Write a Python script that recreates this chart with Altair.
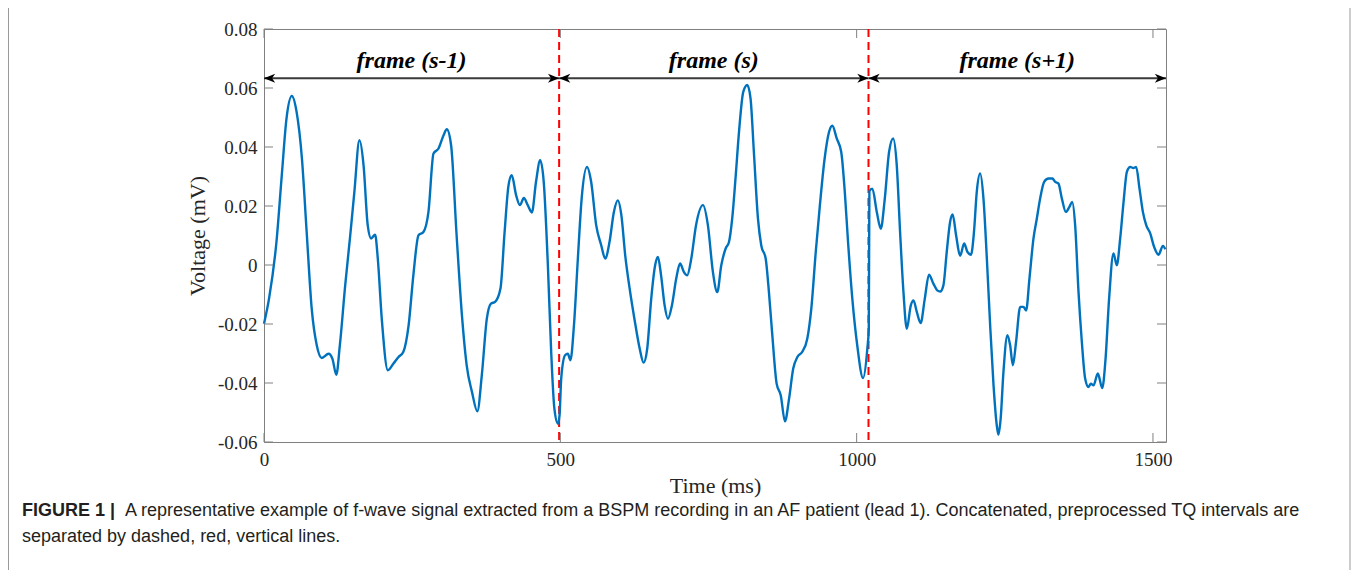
import altair as alt
import pandas as pd

# ---------------- data ----------------
time_ms = [0, 8.5, 21, 30, 38, 47, 55, 64, 72, 80.5, 89, 97.5, 109, 115.5, 122, 128, 137, 145,
           152.5, 161, 168, 175, 180.7, 187.5, 192, 198.7, 209, 218.5, 227, 235, 244, 252, 260.7,
           269, 277.5, 286, 294.5, 303, 308.5, 315.7, 325, 334, 342, 351, 360, 367.5, 376, 383,
           390, 399, 406, 412.6, 418, 425.5, 431.7, 438.5, 445, 452, 459, 466, 472, 479, 484.6,
           490, 496, 498.7, 501.5, 508, 512.7, 517, 523, 529.6, 536, 545, 552, 560.5, 569, 575.7,
           583, 590.4, 597, 603, 609.5, 617, 625, 634, 640.5, 646.6, 653.4, 660, 664.7, 670, 676,
           681.6, 688.3, 695.6, 702, 708.6, 714, 721, 729, 740.7, 749, 757.5, 764.8, 771.6, 779,
           784.6, 790, 796, 801.5, 808.7, 815.5, 821, 826.6, 833.5, 839, 846.5, 852, 857.7, 865,
           872, 879, 886, 893, 900, 908, 916.7, 923.5, 931, 938, 946, 953.4, 959, 966.4, 974, 980,
           985.5, 992.7, 1001, 1010.8, 1018, 1020.5, 1021.5, 1026.5, 1034, 1040.7, 1047.5, 1054.7,
           1061.6, 1067.7, 1073.3, 1079, 1084.6, 1091.4, 1096, 1101.5, 1108, 1115, 1122, 1129.5,
           1136, 1141, 1146.4, 1152, 1157.7, 1162, 1167.8, 1174.6, 1181.4, 1187, 1193, 1198,
           1202.7, 1208.4, 1214, 1219.7, 1225.3, 1231, 1236.5, 1239.3, 1243, 1247.7, 1254.4, 1259,
           1263.6, 1269, 1276, 1281.4, 1286, 1291.6, 1298.4, 1304, 1309.6, 1316.4, 1323.7, 1330.4,
           1335, 1340.6, 1346.3, 1353, 1359, 1363.7, 1368.7, 1374.4, 1380, 1385.6, 1391.2, 1395.3,
           1399.6, 1407, 1414.4, 1420, 1426, 1433.4, 1439, 1444.7, 1450.4, 1456, 1461.6, 1467,
           1471.7, 1477.3, 1483, 1488.6, 1495.4, 1502, 1509.4, 1516.8, 1521]
voltage_mv = [-0.0199, -0.0114, 0.0078, 0.0304, 0.0497, 0.0573, 0.0519, 0.0361, 0.0112, -0.0148,
              -0.0272, -0.0315, -0.0301, -0.0318, -0.0372, -0.0272, -0.0069, 0.0090, 0.0248,
              0.0423, 0.0338, 0.0135, 0.0090, 0.0103, 0.0022, -0.0182, -0.0357, -0.0334, -0.0312,
              -0.0295, -0.0205, -0.0035, 0.0101, 0.0112, 0.0180, 0.0378, 0.0395, 0.0440, 0.0460,
              0.0406, 0.0101, -0.0171, -0.0340, -0.0431, -0.0496, -0.0374, -0.0182, -0.0131,
              -0.0125, -0.0080, 0.0112, 0.0270, 0.0304, 0.0236, 0.0203, 0.0227, 0.0203, 0.0178,
              0.0282, 0.0355, 0.0282, -0.0001, -0.0295, -0.0487, -0.0538, -0.0510, -0.0385,
              -0.0306, -0.0301, -0.0323, -0.0205, 0.0022, 0.0225, 0.0332, 0.0282, 0.0135, 0.0067,
              0.0022, 0.0078, 0.0180, 0.0219, 0.0169, 0.0033, -0.0080, -0.0182, -0.0284, -0.0331,
              -0.0284, -0.0114, -0.0001, 0.0027, -0.0035, -0.0137, -0.0182, -0.0137, -0.0046,
              0.0005, -0.0024, -0.0035, 0.0022, 0.0135, 0.0203, 0.0135, -0.0024, -0.0092, -0.0001,
              0.0056, 0.0078, 0.0157, 0.0304, 0.0451, 0.0587, 0.0610, 0.0564, 0.0383, 0.0157,
              0.0067, 0.0022, -0.0092, -0.0238, -0.0402, -0.0442, -0.0530, -0.0453, -0.0351,
              -0.0312, -0.0295, -0.0250, -0.0148, 0.0044, 0.0203, 0.0361, 0.0451, 0.0472, 0.0429,
              0.0383, 0.0248, 0.0078, -0.0114, -0.0272, -0.0383, -0.0284, -0.0216, 0.0250, 0.0259,
              0.0180, 0.0123, 0.0225, 0.0383, 0.0429, 0.0338, 0.0112, -0.0092, -0.0216, -0.0137,
              -0.0120, -0.0159, -0.0197, -0.0114, -0.0033, -0.0063, -0.0086, -0.0090, -0.0069,
              0.0044, 0.0146, 0.0171, 0.0101, 0.0031, 0.0073, 0.0044, 0.0035, 0.0112, 0.0248,
              0.0310, 0.0225, 0.0022, -0.0205, -0.0408, -0.0544, -0.0575, -0.0521, -0.0363,
              -0.0238, -0.0272, -0.0340, -0.0261, -0.0142, -0.0142, -0.0154, -0.0046, 0.0090,
              0.0157, 0.0225, 0.0282, 0.0293, 0.0293, 0.0282, 0.0276, 0.0225, 0.0180, 0.0197,
              0.0214, 0.0135, -0.0092, -0.0261, -0.0385, -0.0414, -0.0402, -0.0408, -0.0368,
              -0.0417, -0.0318, -0.0114, 0.0039, -0.0001, 0.0090, 0.0214, 0.0316, 0.0332, 0.0329,
              0.0332, 0.0259, 0.0180, 0.0135, 0.0107, 0.0061, 0.0035, 0.0065, 0.0053]

frame_bounds = [0, 498, 1020, 1522]
frame_labels = ["frame (s-1)", "frame (s)", "frame (s+1)"]
arrow_level = [0.0633, 0.0633, 0.0633]
label_level = [0.0692, 0.0692, 0.0692]

x_ticks = [0, 500, 1000, 1500]
y_ticks = [-0.06, -0.04, -0.02, 0, 0.02, 0.04, 0.06, 0.08]

caption_bold = "FIGURE 1 |"
caption_line1 = ("A representative example of f-wave signal extracted from a BSPM recording in an "
                 "AF patient (lead 1). Concatenated, preprocessed TQ intervals are")
caption_line2 = "separated by dashed, red, vertical lines."

# ---------------- chart ----------------
W, H = 902, 413
TK = 9
BOX = "#808080"
SERIF = "Liberation Serif"
SANS = "Liberation Sans"

xs = alt.Scale(domain=[frame_bounds[0], frame_bounds[-1]], nice=False, zero=False)
ys = alt.Scale(domain=[y_ticks[0], y_ticks[-1]], nice=False, zero=False)

sig = pd.DataFrame({"t": time_ms, "v": voltage_mv})
frames = pd.DataFrame({
    "start": frame_bounds[:-1],
    "end": frame_bounds[1:],
    "mid": [(a + b) / 2 for a, b in zip(frame_bounds[:-1], frame_bounds[1:])],
    "label": frame_labels,
    "ay": arrow_level,
    "ly": label_level,
})
seps = pd.DataFrame({"b": frame_bounds[1:-1]})
xt = pd.DataFrame({"xt": x_ticks})
yt = pd.DataFrame({"yt": y_ticks})

line = alt.Chart(sig).mark_line(color="#0072BD", strokeWidth=2.4, interpolate="monotone").encode(
    x=alt.X("t:Q", scale=xs, axis=alt.Axis(values=x_ticks, format="d", title="Time (ms)",
                                            labelPadding=8, titlePadding=6, labelFlush=False)),
    y=alt.Y("v:Q", scale=ys, axis=alt.Axis(
        values=y_ticks, title="Voltage (mV)", labelPadding=7, titlePadding=8, labelFlush=False,
        labelExpr="datum.value == 0 ? '0' : (datum.value < 0 ? '-' : '') + format(abs(datum.value), '.2f')")),
)

sep_rules = alt.Chart(seps).mark_rule(color="#FF0000", strokeDash=[8, 5], strokeWidth=2).encode(
    x=alt.X("b:Q", scale=xs)
)

xt_bottom = alt.Chart(xt).mark_rule(color=BOX, strokeWidth=1).encode(
    x=alt.X("xt:Q", scale=xs), y=alt.value(H), y2=alt.value(H - TK))
xt_top = alt.Chart(xt).mark_rule(color=BOX, strokeWidth=1).encode(
    x=alt.X("xt:Q", scale=xs), y=alt.value(0), y2=alt.value(TK))
yt_left = alt.Chart(yt).mark_rule(color=BOX, strokeWidth=1).encode(
    y=alt.Y("yt:Q", scale=ys), x=alt.value(0), x2=alt.value(TK))
yt_right = alt.Chart(yt).mark_rule(color=BOX, strokeWidth=1).encode(
    y=alt.Y("yt:Q", scale=ys), x=alt.value(W - TK), x2=alt.value(W))

arrow_lines = alt.Chart(frames).mark_rule(color="#3a3a3a", strokeWidth=1.8).encode(
    x=alt.X("start:Q", scale=xs), x2="end:Q", y=alt.Y("ay:Q", scale=ys))

LEFT_HEAD = "M0,0 L1,-0.4 L0.72,0 L1,0.4 Z"
RIGHT_HEAD = "M0,0 L-1,-0.4 L-0.72,0 L-1,0.4 Z"
heads_left = alt.Chart(frames).mark_point(shape=LEFT_HEAD, size=500, filled=True, color="#000000",
                                          opacity=1, strokeWidth=0).encode(
    x=alt.X("start:Q", scale=xs), y=alt.Y("ay:Q", scale=ys))
heads_right = alt.Chart(frames).mark_point(shape=RIGHT_HEAD, size=500, filled=True, color="#000000",
                                           opacity=1, strokeWidth=0).encode(
    x=alt.X("end:Q", scale=xs), y=alt.Y("ay:Q", scale=ys))

frame_text = alt.Chart(frames).mark_text(font=SERIF, fontSize=24, fontStyle="italic", fontWeight="bold",
                                         baseline="middle", align="center", color="#000000").encode(
    x=alt.X("mid:Q", scale=xs), y=alt.Y("ly:Q", scale=ys), text="label:N")

cap_df = pd.DataFrame({"b": [caption_bold], "l1": [caption_line1], "l2": [caption_line2]})
cap_bold = alt.Chart(cap_df).mark_text(font=SANS, fontSize=18, fontWeight="bold", align="left",
                                       baseline="middle", color="#231f20").encode(
    x=alt.value(-242), y=alt.value(482), text="b:N")
cap_l1 = alt.Chart(cap_df).mark_text(font=SANS, fontSize=18, align="left", baseline="middle",
                                     color="#231f20").encode(
    x=alt.value(-139), y=alt.value(482), text="l1:N")
cap_l2 = alt.Chart(cap_df).mark_text(font=SANS, fontSize=18, align="left", baseline="middle",
                                     color="#231f20").encode(
    x=alt.value(-242), y=alt.value(508), text="l2:N")

border = alt.Chart(cap_df).mark_rule(color="#9a9a9a", strokeWidth=1).encode(
    x=alt.value(-255.5), y=alt.value(-30), y2=alt.value(600))
border_r = alt.Chart(cap_df).mark_rule(color="#9a9a9a", strokeWidth=1).encode(
    x=alt.value(1086), y=alt.value(-30), y2=alt.value(600))

chart = alt.layer(
    sep_rules, line, xt_bottom, xt_top, yt_left, yt_right,
    arrow_lines, heads_left, heads_right, frame_text,
    cap_bold, cap_l1, cap_l2, border, border_r,
).properties(
    width=W, height=H,
    autosize=alt.AutoSizeParams(type="none"),
    padding={"left": 256, "top": 21, "right": 185, "bottom": 128},
    background="white",
).configure_view(
    stroke=BOX, strokeWidth=1
).configure_axis(
    domain=False, ticks=False, grid=False,
    labelFont=SERIF, labelFontSize=19, labelColor="#262626",
    titleFont=SERIF, titleFontSize=22, titleFontWeight="normal", titleColor="#262626",
)

chart.save("out.html", embed_options={"renderer": "svg", "actions": False})
